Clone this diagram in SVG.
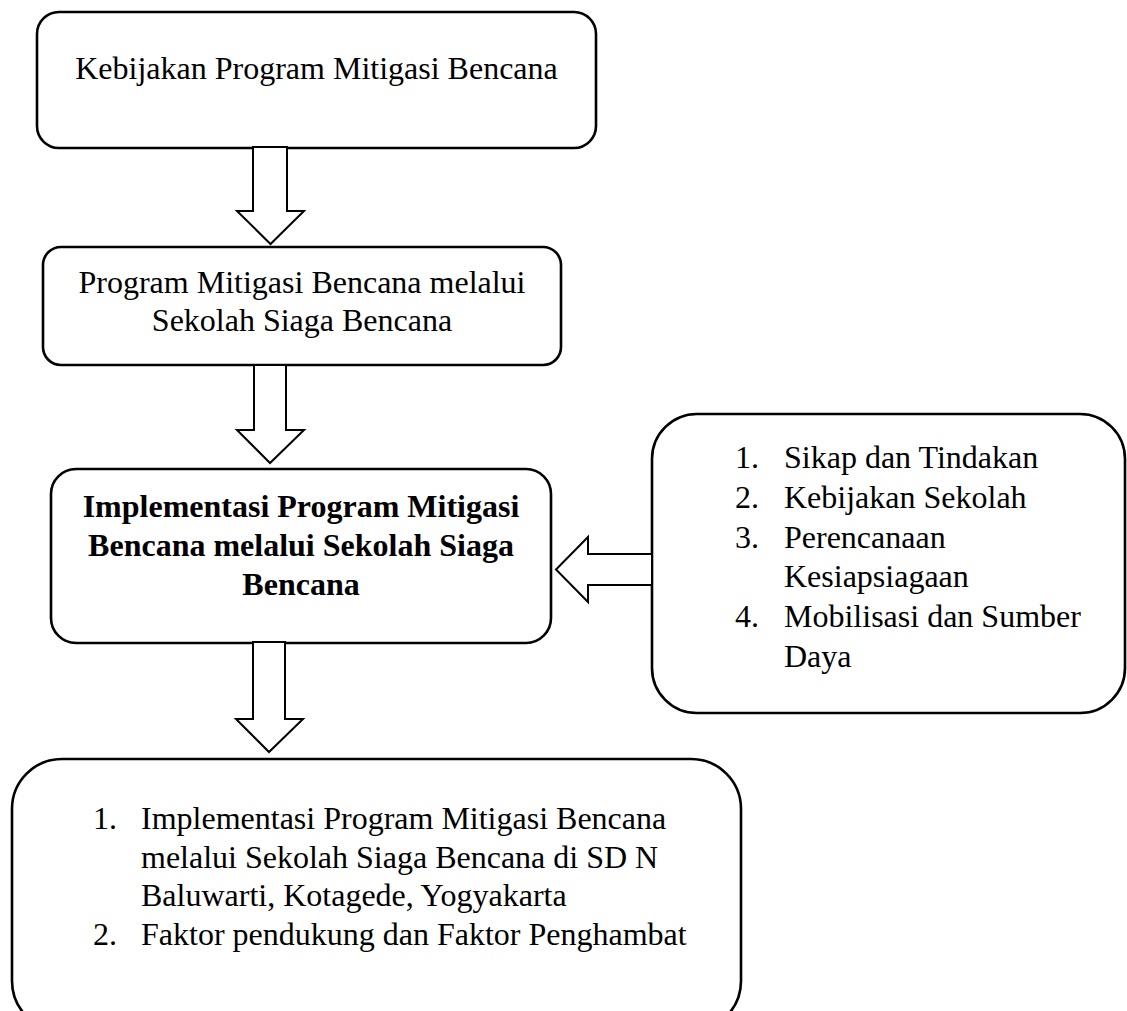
<svg xmlns="http://www.w3.org/2000/svg" width="1127" height="1011" viewBox="0 0 1127 1011">
<style>
.box{fill:#fff;stroke:#000;stroke-width:2.6}
.arrow{fill:#fff;stroke:#000;stroke-width:2;stroke-linejoin:miter}
text{font-family:"Liberation Serif","Times New Roman",serif;font-size:32px;fill:#000}
.c{text-anchor:middle}
.b{font-weight:bold}
</style>
<rect width="1127" height="1011" fill="#fff"/>
<g id="node-kebijakan">
<rect class="box" x="37" y="12" width="559" height="136" rx="22"/>
<text class="c" x="316.5" y="79">Kebijakan Program Mitigasi Bencana</text>
</g>
<g id="node-program">
<rect class="box" x="43" y="247" width="518" height="118" rx="18"/>
<text class="c" x="302" y="293">Program Mitigasi Bencana melalui</text>
<text class="c" x="302" y="331">Sekolah Siaga Bencana</text>
</g>
<g id="node-implementasi">
<rect class="box" x="51" y="469" width="500" height="174" rx="25"/>
<text class="c b" x="301" y="517">Implementasi Program Mitigasi</text>
<text class="c b" x="301" y="556">Bencana melalui Sekolah Siaga</text>
<text class="c b" x="301" y="595">Bencana</text>
</g>
<g id="node-faktor">
<rect class="box" x="652" y="414" width="473" height="299" rx="45"/>
<text x="735" y="468">1.</text><text x="784" y="468">Sikap dan Tindakan</text>
<text x="735" y="508">2.</text><text x="784" y="508">Kebijakan Sekolah</text>
<text x="735" y="548">3.</text><text x="784" y="548">Perencanaan</text>
<text x="784" y="587">Kesiapsiagaan</text>
<text x="735" y="627">4.</text><text x="784" y="627">Mobilisasi dan Sumber</text>
<text x="784" y="667">Daya</text>
</g>
<g id="node-hasil">
<rect class="box" x="12" y="759" width="729" height="272" rx="50"/>
<text x="93" y="829">1.</text><text x="141" y="829">Implementasi Program Mitigasi Bencana</text>
<text x="141" y="868">melalui Sekolah Siaga Bencana di SD N</text>
<text x="141" y="906">Baluwarti, Kotagede, Yogyakarta</text>
<text x="93" y="945">2.</text><text x="141" y="945">Faktor pendukung dan Faktor Penghambat</text>
</g>
<g id="connectors">
<polygon class="arrow" points="253,147 287,147 287,211 304,211 270.5,244 237,211 253,211"/>
<polygon class="arrow" points="254,365 286,365 286,430 304,430 270,463 237,430 254,430"/>
<polygon class="arrow" points="253,642 285,642 285,719 303,719 269,752 236,719 253,719"/>
<polygon class="arrow" points="652,554 588,554 588,537 556,569.5 588,602 588,585 652,585"/>
</g>
</svg>
